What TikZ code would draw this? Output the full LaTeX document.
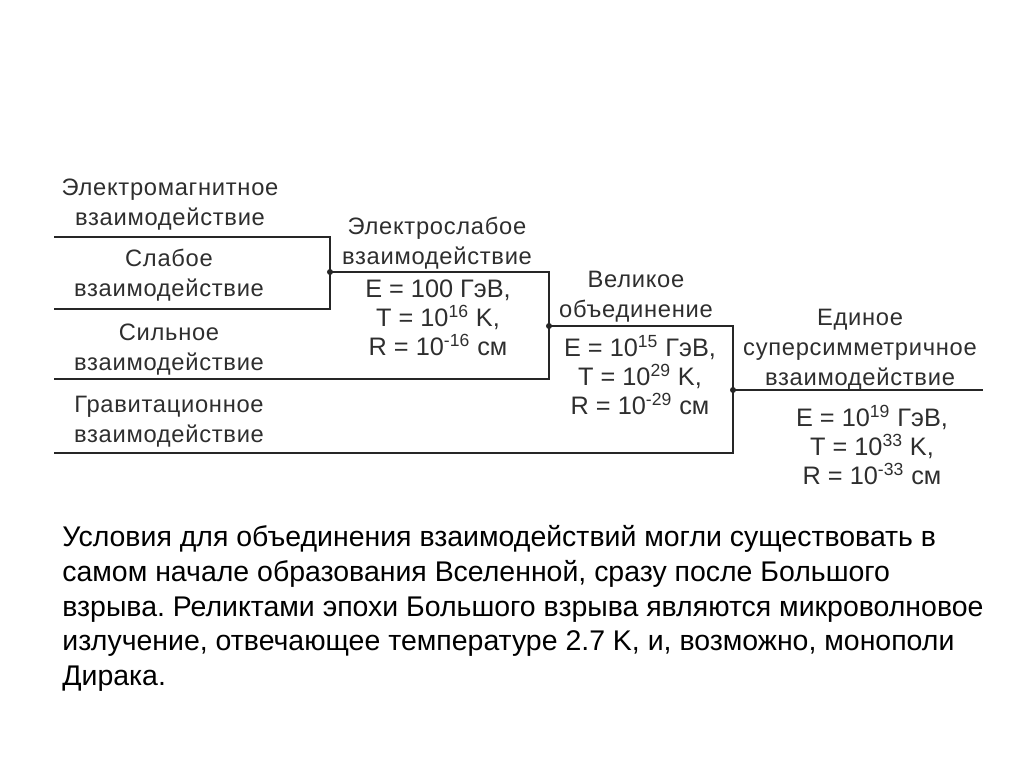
\documentclass[tikz,border=0pt]{standalone}
\usepackage{fontspec}
\setmainfont{Liberation Sans}
\newfontfamily\schemefont[LetterSpace=3]{Liberation Sans}
\usetikzlibrary{positioning}
\definecolor{schemeline}{HTML}{262626}
\definecolor{schemetext}{HTML}{2E2E2E}
\frenchspacing
\tikzset{
  forcelabel/.style={
    align=center,
    text=schemetext,
    inner sep=0pt,
    font=\schemefont\fontsize{13.5}{17}\selectfont
  },
  paramlabel/.style={
    forcelabel,
    font=\fontsize{14.4}{16.6}\selectfont
  },
  bus/.style={draw=schemeline, line width=1.1pt},
  joint/.style={circle, fill=schemeline, inner sep=0pt, minimum size=3.4pt},
  bodytext/.style={align=left, anchor=north west, inner sep=0pt, text=black,
    font=\fontsize{16.2}{19.8}\selectfont}
}

\begin{document}
\begin{tikzpicture}[x=0.02cm, y=-0.02cm]
  \useasboundingbox (0,0) rectangle (1024,767);
  % corners of the merging lines
  \coordinate (emL) at (54,237);
  \coordinate (emR) at (330,237);
  \coordinate (weakL) at (54,309);
  \coordinate (weakR) at (330,309);
  \coordinate (ewJ) at (330,272);
  \coordinate (ewR) at (549,272);
  \coordinate (strongL) at (54,379);
  \coordinate (strongR) at (549,379);
  \coordinate (gutJ) at (549,326);
  \coordinate (gutR) at (733,326);
  \coordinate (gravL) at (54,453);
  \coordinate (gravR) at (733,453);
  \coordinate (susyJ) at (733,390);
  \coordinate (susyR) at (983,390);

  \draw[bus] (emL) -- (emR) -- (weakR) -- (weakL);
  \draw[bus] (ewJ) -- (ewR) -- (strongR) -- (strongL);
  \draw[bus] (gutJ) -- (gutR) -- (gravR) -- (gravL);
  \draw[bus] (susyJ) -- (susyR);
  \node[joint] (ewdot) at (ewJ) {};
  \node[joint] (gutdot) at (gutJ) {};
  \node[joint] (susydot) at (susyJ) {};

  % separate forces
  \node[forcelabel] (em) at (170,205) {Электромагнитное\\взаимодействие};
  \node[forcelabel] (weak) at (169,275) {Слабое\\взаимодействие};
  \node[forcelabel] (strong) at (169,350) {Сильное\\взаимодействие};
  \node[forcelabel] (grav) at (169,422) {Гравитационное\\взаимодействие};

  % unified stages
  \node[forcelabel] (ew) at (437,243) {Электрослабое\\взаимодействие};
  \node[paramlabel] (ewpar) at (438,318) {E = 100 ГэВ,\\T = 10\textsuperscript{16} K,\\R = 10\textsuperscript{-16} см};
  \node[forcelabel] (gut) at (636,297) {Великое\\объединение};
  \node[paramlabel] (gutpar) at (640,375) {E = 10\textsuperscript{15} ГэВ,\\T = 10\textsuperscript{29} K,\\R = 10\textsuperscript{-29} см};
  \node[forcelabel] (susy) at (860,350) {Единое\\суперсимметричное\\взаимодействие};
  \node[paramlabel] (susypar) at (872,445) {E = 10\textsuperscript{19} ГэВ,\\T = 10\textsuperscript{33} K,\\R = 10\textsuperscript{-33} см};

  \node[bodytext] (note) at (62,525) {Условия для объединения взаимодействий могли существовать в\\
    самом начале образования Вселенной, сразу после Большого\\
    взрыва. Реликтами эпохи Большого взрыва являются микроволновое\\
    излучение, отвечающее температуре 2.7 K, и, возможно, монополи\\
    Дирака.};
\end{tikzpicture}
\end{document}
